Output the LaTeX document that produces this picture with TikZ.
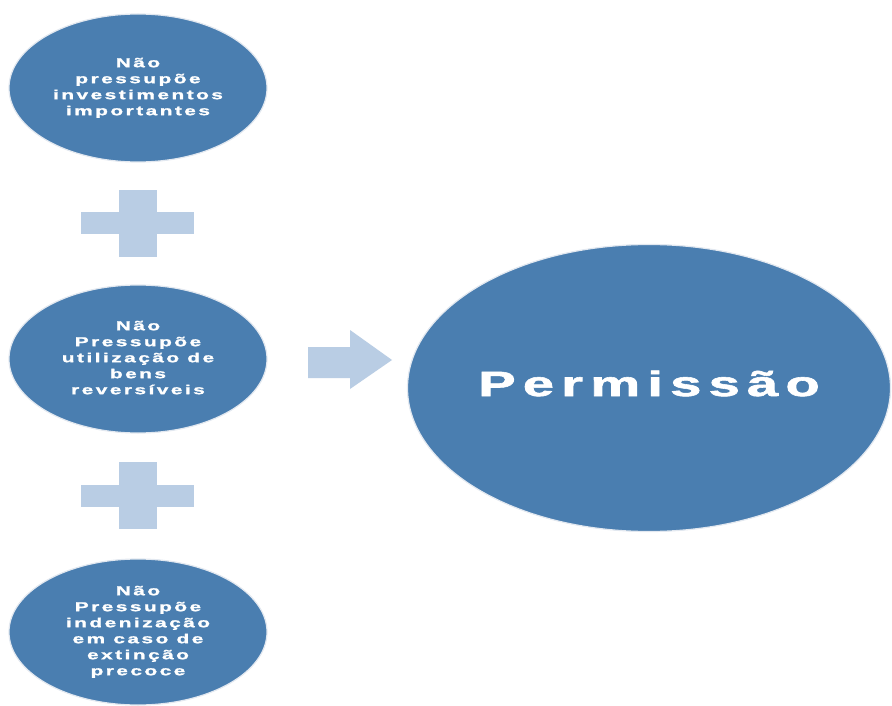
\documentclass[tikz,border=0pt]{standalone}
\usepackage{fontspec}
\usepackage{graphicx}
\newfontfamily\diagfont[LetterSpace=12,FakeBold=1.2]{Liberation Sans Bold}
\newfontfamily\bigdiagfont[LetterSpace=13,FakeBold=1.6]{Liberation Sans Bold}
\newcommand\widetext[1]{\scalebox{1.6}[1]{\begin{tabular}{@{}c@{}}#1\end{tabular}}}
\definecolor{ovalblue}{RGB}{74,126,176}
\definecolor{lightblue}{RGB}{185,205,228}
\definecolor{rimgray}{RGB}{226,232,240}
\usetikzlibrary{shapes.geometric}
\begin{document}
\begin{tikzpicture}[x=1pt,y=-1pt,
  oval/.style={ellipse, fill=ovalblue, draw=rimgray, line width=1.2pt, text=white, align=center, inner sep=0pt},
  smalloval/.style={oval, minimum width=258pt, minimum height=148pt, font=\fontsize{13}{16}\diagfont},
  bigoval/.style={oval, minimum width=482pt, minimum height=287pt, font=\fontsize{35}{40}\bigdiagfont},
  deco/.style={fill=lightblue, draw=none}]
\fill[white] (0,0) rectangle (892,706);
\useasboundingbox (0,0) rectangle (892,706);
\node[smalloval] (o1) at (138,88) {\widetext{Não\\pressupõe\\investimentos\\importantes}};
\node[smalloval] (o2) at (138,359) {\widetext{Não\\Pressupõe\\utilização de\\bens\\reversíveis}};
\node[smalloval, minimum height=146pt] (o3) at (138,632) {\widetext{Não\\Pressupõe\\indenização\\em caso de\\extinção\\precoce}};
\node[bigoval] (big) at (649,388) {\widetext{Permissão}};
% plus signs
\fill[deco] (119,190) rectangle (157,257);
\fill[deco] (81,212) rectangle (194,234);
\fill[deco] (119,462) rectangle (157,529);
\fill[deco] (81,485) rectangle (194,507);
% block arrow
\fill[deco] (308,347) -- (350,347) -- (350,330) -- (392,360) -- (350,389) -- (350,378) -- (308,378) -- cycle;
\end{tikzpicture}
\end{document}
